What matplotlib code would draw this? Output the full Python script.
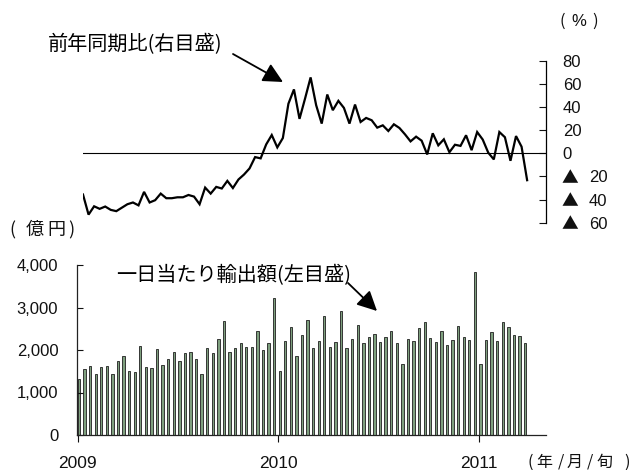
import matplotlib
matplotlib.use("Agg")
import matplotlib.pyplot as plt
from matplotlib.ticker import FuncFormatter
from matplotlib.transforms import blended_transform_factory
from matplotlib.patches import FancyArrowPatch

# ---- data ----
daily_exports = [
    # 2009 (36 dekads)
    1317, 1553, 1615, 1427, 1592, 1615, 1443, 1733, 1851, 1498, 1482, 2086,
    1608, 1569, 2031, 1647, 1788, 1945, 1733, 1922, 1945, 1780, 1427, 2039,
    1922, 2251, 2682, 1945, 2039, 2157, 2063, 2063, 2439, 1992, 2157, 3216,
    # 2010 (36 dekads)
    1506, 2211, 2533, 1851, 2353, 2698, 2047, 2211, 2792, 2070, 2188, 2910,
    2039, 2251, 2580, 2157, 2306, 2368, 2188, 2306, 2447, 2157, 1663, 2251,
    2211, 2510, 2659, 2275, 2188, 2447, 2110, 2235, 2572, 2298, 2235, 3827,
    # 2011 (9 dekads)
    1671, 2235, 2416, 2211, 2659, 2533, 2345, 2321, 2157,
]
yoy_change = [
    -35.6, -53, -45.8, -48, -46, -48.9, -50, -47, -44, -42.5, -45, -33.3,
    -42.5, -40.5, -34.8, -38.8, -38.8, -38, -38, -36, -37.4, -44, -29.6, -34.8,
    -29, -30.4, -23.8, -30, -22.6, -18.3, -13, -3.2, -4.3, 7.8, 15.9, 5.2,
    13.3, 43, 55.4, 29.9, 47.5, 65.8, 41.7, 25.8, 51, 37.4, 45.5, 39.4,
    25.8, 42.3, 27.2, 30.7, 28.7, 22.3, 24.3, 19.4, 25.2, 22, 16.5, 10.4,
    14.5, 11, -0.9, 17.4, 7, 12.2, 1, 7.5, 6.5, 15.7, 2.8, 18.5,
    12, 0.6, -5.2, 18.5, 14, -6.4, 15, 5.8, -23.2,
]
year_labels = ["2009", "2010", "2011"]
left_ticks = [0, 1000, 2000, 3000, 4000]
right_ticks = [-60, -40, -20, 0, 20, 40, 60, 80]

W, H = 639, 470
NUM = ["Liberation Sans", "Noto Sans CJK JP", "DejaVu Sans"]
JP = ["Noto Sans CJK JP", "DejaVu Sans"]

fig = plt.figure(figsize=(W / 100, H / 100), dpi=100)
fig.patch.set_facecolor("white")

def fx(px):
    return px / W

def fy(py):
    return 1 - py / H

# ---- bottom: bars ----
axb = fig.add_axes([fx(77), fy(435), fx(546) - fx(77), fy(265) - fy(435)])
xb = list(range(len(daily_exports)))
axb.bar([x + 0.25 for x in xb], daily_exports, width=0.42,
        color="#7fa07f", edgecolor="#1e1e1e", linewidth=0.6)
axb.set_xlim(-0.1, 84.0)
axb.set_ylim(0, 4000)
for s in ["top", "right"]:
    axb.spines[s].set_visible(False)
for s in ["left", "bottom"]:
    axb.spines[s].set_color("#222222")
    axb.spines[s].set_linewidth(0.9)
axb.set_yticks(left_ticks)
axb.yaxis.set_major_formatter(FuncFormatter(lambda v, p: f"{int(v):,}"))
axb.tick_params(axis="y", direction="in", length=4.5, width=0.8, pad=13.5,
                labelsize=12, colors="#111111")
axb.set_xticks([0, 36, 72])
axb.set_xticklabels(year_labels)
axb.tick_params(axis="x", direction="out", length=4.8, width=0.8, pad=10,
                labelsize=12.5, colors="#111111")
for lab in axb.get_xticklabels() + axb.get_yticklabels():
    lab.set_family(NUM)

# ---- top: line ----
axt = fig.add_axes([fx(83), fy(222.7), fx(546) - fx(83), fy(61) - fy(222.7)])
axt.patch.set_alpha(0)
xl = list(range(len(yoy_change)))
axt.plot(xl, yoy_change, color="black", linewidth=1.6, solid_joinstyle="miter")
axt.axhline(0, color="black", linewidth=0.8)
axt.set_xlim(0, 83.4)
axt.set_ylim(-60, 80)
for s in ["top", "left", "bottom"]:
    axt.spines[s].set_visible(False)
axt.spines["right"].set_linewidth(0.9)
axt.set_xticks([])
axt.yaxis.tick_right()
axt.set_yticks(right_ticks)
axt.yaxis.set_major_formatter(
    FuncFormatter(lambda v, p: "" if v < 0 else f"{int(v)}"))
axt.tick_params(axis="y", direction="in", length=5, width=0.8, pad=12,
                labelsize=12, colors="#111111")
for lab in axt.get_yticklabels():
    lab.set_family(NUM)
    lab.set_horizontalalignment("left")

# negative labels written as "▲ n"
tr = blended_transform_factory(fig.transFigure, axt.transData)
for v in right_ticks:
    if v < 0:
        fig.text(fx(562), v, "\u25b2", transform=tr, family=JP, fontsize=12,
                 ha="left", va="center_baseline", color="#111111")
        fig.text(fx(589), v, f"{-v}", transform=tr, family=NUM, fontsize=12,
                 ha="left", va="center_baseline", color="#111111")

# ---- texts ----
fig.text(fx(48), fy(45), "前年同期比(右目盛)", family=JP, fontsize=14.5,
         va="center", ha="left")
fig.text(fx(116), fy(276), "一日当たり輸出額(左目盛)", family=JP, fontsize=14.5,
         va="center", ha="left")


def place(items, yc, size):
    """Place characters one by one at given centre x (wide-spaced unit labels)."""
    for ch, xc in items:
        fam = NUM if ch == "%" else JP
        fig.text(fx(xc), fy(yc), ch, family=fam, fontsize=size,
                 va="center", ha="center", color="#111111")


place([("(", 562.5), ("%", 578.5), (")", 595.5)], 21, 12)
place([("(", 12), ("億", 35), ("円", 56), (")", 71)], 230, 13)
place([("(", 530.5), ("年", 544.5), ("/", 560.5), ("月", 575),
       ("/", 590), ("旬", 605), (")", 627)], 462, 11.5)

arrow_style = "-|>,head_length=0.8,head_width=0.4"
for (x0, y0), (x1, y1) in [((233, 54), (283, 82)), ((348, 283), (377, 311))]:
    fig.add_artist(FancyArrowPatch(
        (fx(x0), fy(y0)), (fx(x1), fy(y1)), transform=fig.transFigure,
        arrowstyle=arrow_style, mutation_scale=15, color="black",
        linewidth=1.3, shrinkA=0, shrinkB=0))

fig.savefig("out.png", dpi=100, facecolor="white")
